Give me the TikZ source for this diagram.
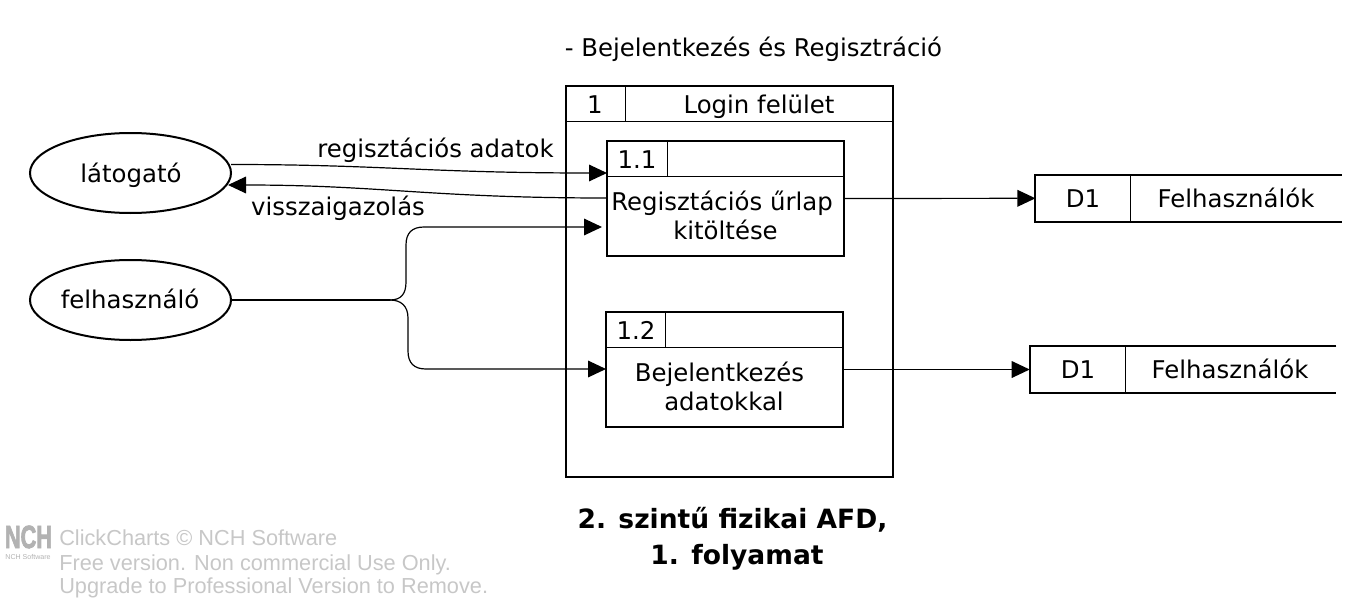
\documentclass[tikz,border=0pt]{standalone}
\usepackage{fontspec}
\setmainfont{DejaVu Sans}
\newfontfamily\wmfont{Liberation Sans}
\newfontfamily\logofont[FakeBold=3]{Liberation Sans Bold}
\usetikzlibrary{arrows.meta,shapes.geometric}
\tikzset{
  x=0.75pt,y=-0.75pt,
  txt/.style={inner sep=0pt,anchor=base,font=\fontsize{18.3}{22}\selectfont,text=black},
  heavy/.style={draw=black,line width=1.5pt,fill=none},
  ent/.style={heavy,ellipse,minimum width=150.75pt,minimum height=60pt,inner sep=0pt},
  outerbox/.style={heavy,rectangle,minimum width=245.25pt,minimum height=293.25pt,inner sep=0pt},
  procbox/.style={heavy,rectangle,minimum width=177.75pt,minimum height=86.25pt,inner sep=0pt},
  storebox/.style={inner sep=0pt,minimum width=229.5pt,minimum height=35pt},
  thin rule/.style={draw=black,line width=0.75pt},
  conn/.style={draw=black,line width=0.9pt,-{Triangle[length=13.5pt,width=12.5pt]}},
  plain conn/.style={draw=black,line width=0.9pt},
  wm/.style={inner sep=0pt,anchor=base west,text=black!22,font=\wmfont\fontsize{16.3}{20}\selectfont},
  ttl/.style={inner sep=0pt,anchor=base,font=\fontsize{19.9}{26}\bfseries\selectfont,text=black},
}
\begin{document}
\begin{tikzpicture}
\useasboundingbox (0,0) rectangle (1372,603);
% entities
\node[ent] (lat) at (130.5,173) {};
\node[txt] (latt) at (131,182) {látogató};
\node[ent] (fel) at (130.5,300) {};
\node[txt] (felt) at (130,308) {felhasználó};
% outer process
\node[outerbox] (outer) at (729.5,281.5) {};
\draw[thin rule] (outer.west |- 0,121) -- (outer.east |- 0,121);
\draw[thin rule] (625,86) -- (625,121);
\node[txt] (outn) at (595,113) {1};
\node[txt] (outt) at (759,113) {Login felület};
% process 1.1
\node[procbox] (pa) at (725.5,198.5) {};
\draw[thin rule] (pa.west |- 0,176) -- (pa.east |- 0,176);
\draw[thin rule] (667,141) -- (667,176);
\node[txt] (pan) at (637,168) {1.1};
\node[txt] (pat) at (722,210.5) {Regisztációs űrlap};
\node[txt] (patb) at (725.5,239.5) {kitöltése};
% process 1.2
\node[procbox] (pb) at (724.5,369.5) {};
\draw[thin rule] (pb.west |- 0,347) -- (pb.east |- 0,347);
\draw[thin rule] (665,312) -- (665,347);
\node[txt] (pbn) at (636,339) {1.2};
\node[txt] (pbt) at (719.5,381.5) {Bejelentkezés};
\node[txt] (pbtb) at (724,410.5) {adatokkal};
% data stores
\node[storebox] (dsa) at (1188.7,198.3) {};
\draw[heavy] (dsa.north east) -- (dsa.north west) -- (dsa.south west) -- (dsa.south east);
\draw[thin rule] (1130,175) -- (1130,221.7);
\node[txt] (dsan) at (1083,207.5) {D1};
\node[txt] (dsat) at (1236,207.5) {Felhasználók};
\node[storebox] (dsb) at (1183,369.5) {};
\draw[heavy] (dsb.north east) -- (dsb.north west) -- (dsb.south west) -- (dsb.south east);
\draw[thin rule] (1125,346) -- (1125,393);
\node[txt] (dsbn) at (1078,378) {D1};
\node[txt] (dsbt) at (1230,378) {Felhasználók};
% connectors
\coordinate (latout) at (231,164.5);
\coordinate (latin) at (228,185);
\coordinate (paIn) at (607,173);
\coordinate (paOut) at (607,198);
\coordinate (paSide) at (602,227);
\coordinate (pbIn) at (606,369);
\coordinate (split) at (390,300);
\draw[conn] (latout) .. controls (380,164.5) and (430,173) .. (paIn);
\draw[conn] (paOut) .. controls (430,198) and (380,185) .. (latin);
\draw[plain conn] (fel.east) -- (split);
\draw[conn] (split) .. controls (401,300) and (406,294) .. (406,282) -- (406,245) .. controls (406,233) and (412,227) .. (424,227) -- (paSide);
\draw[conn] (split) .. controls (401,300) and (408,306) .. (408,318) -- (408,351) .. controls (408,363) and (414,369) .. (426,369) -- (pbIn);
\draw[conn] (pa.east) -- (dsa.west);
\draw[conn] (pb.east) -- (dsb.west);
% labels
\node[txt] (lreg) at (435.5,157) {regisztációs adatok};
\node[txt] (lvis) at (338,215) {visszaigazolás};
\node[txt] (ttop) at (753.5,56.5) {- Bejelentkezés és Regisztráció};
\node[ttl] (tbot) at (732.5,528) {2. szintű fizikai AFD,};
\node[ttl] (tbotb) at (737,564) {1. folyamat};
% watermark
\node[inner sep=0pt,anchor=base,text=black!30,font=\logofont\fontsize{24}{24}\selectfont] (logo) at (28.5,548) {\scalebox{.68}[1]{NCH}};
\node[inner sep=0pt,anchor=base,text=black!30,font=\wmfont\fontsize{5.3}{6}\selectfont] (logos) at (28,559) {NCH Software};
\node[wm] (w1) at (59,545) {ClickCharts © NCH Software};
\node[wm] (w2) at (59,570) {Free version. Non commercial Use Only.};
\node[wm] (w3) at (59,593.5) {Upgrade to Professional Version to Remove.};
\end{tikzpicture}
\end{document}
